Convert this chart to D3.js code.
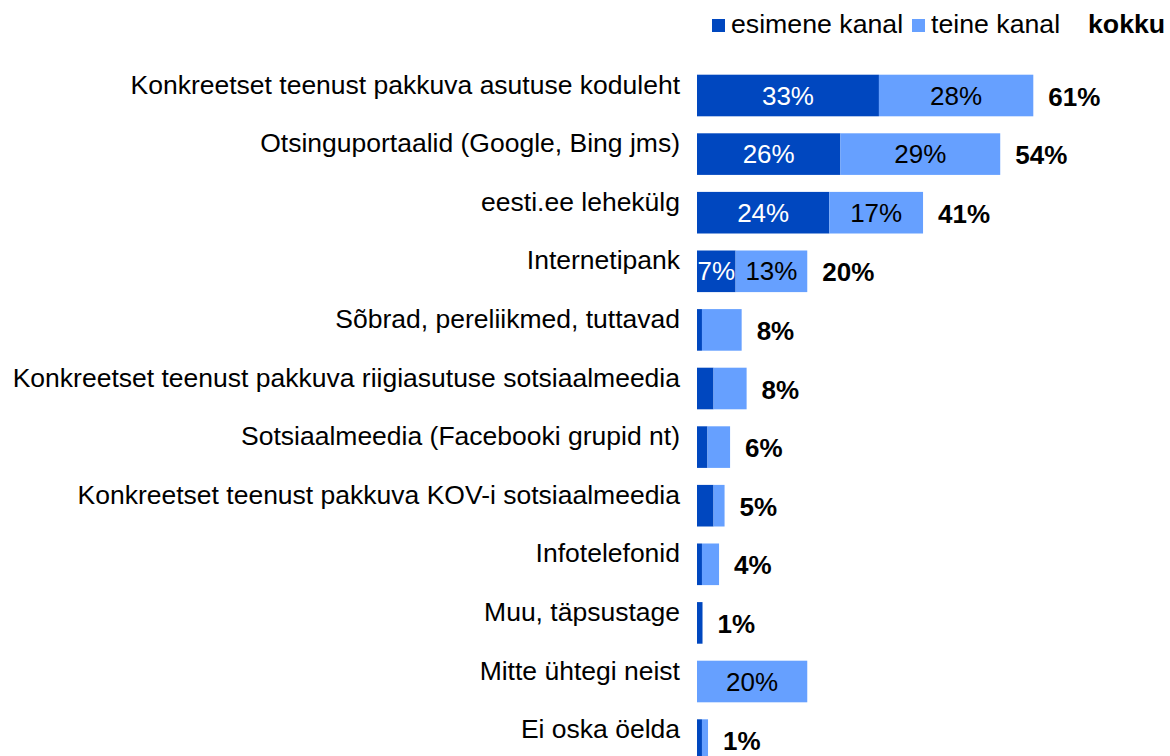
<!DOCTYPE html>
<html>
<head>
<meta charset="utf-8">
<script src="https://cdn.jsdelivr.net/npm/d3@7"></script>
<style>
    body { margin: 0; background: #fff; }
    svg { display: block; font-family: "Liberation Sans", Arial, sans-serif; }
</style>
</head>
<body>
<div id="chart"></div>
<script>
const categories = [
    "Konkreetset teenust pakkuva asutuse koduleht",
    "Otsinguportaalid (Google, Bing jms)",
    "eesti.ee lehekülg",
    "Internetipank",
    "Sõbrad, pereliikmed, tuttavad",
    "Konkreetset teenust pakkuva riigiasutuse sotsiaalmeedia",
    "Sotsiaalmeedia (Facebooki grupid nt)",
    "Konkreetset teenust pakkuva KOV-i sotsiaalmeedia",
    "Infotelefonid",
    "Muu, täpsustage",
    "Mitte ühtegi neist",
    "Ei oska öelda",
]
// esimene kanal / teine kanal (%)
const firstValues = [33, 26, 24, 7, 0.9, 3.0, 1.9, 3.0, 0.9, 1.0, 0, 0.9]
const secondValues = [28, 29, 17, 13, 7.2, 6.0, 4.1, 2.0, 3.1, 0, 20, 1.1]
const firstLabels = ["33%", "26%", "24%", "7%", null, null, null, null, null, null, null, null]
const secondLabels = ["28%", "29%", "17%", "13%", null, null, null, null, null, null, "20%", null]
const totalLabels = ["61%", "54%", "41%", "20%", "8%", "8%", "6%", "5%", "4%", "1%", null, "1%"]
const legendItems = ["esimene kanal", "teine kanal"]

const width = 1170
const height = 756
const darkBlue = "#0047bf"
const lightBlue = "#66a0ff"
const fontSize = 26

const svg = d3.select("#chart")
    .append("svg")
    .attr("width", width)
    .attr("height", height)

const x = d3.scaleLinear().domain([0, 61]).range([697, 1033.3])
const y = d3.scaleBand()
    .domain(categories)
    .range([66.2, 66.2 + 12 * 58.6])
    .paddingInner(0.29)
    .paddingOuter(0.145)

const rows = categories.map((c, i) => ({
    cat: c,
    first: firstValues[i],
    second: secondValues[i],
    l1: firstLabels[i],
    l2: secondLabels[i],
    total: totalLabels[i],
}))

// category labels
svg.append("g")
    .selectAll("text")
    .data(rows)
    .join("text")
    .attr("x", 680)
    .attr("y", (d) => y(d.cat) + y.bandwidth() / 2 - 2)
    .attr("text-anchor", "end")
    .attr("font-size", 26.5)
    .attr("fill", "#000")
    .text((d) => d.cat)

const bars = svg.append("g")

bars.selectAll("rect.first")
    .data(rows.filter((d) => d.first > 0))
    .join("rect")
    .attr("class", "first")
    .attr("x", x(0))
    .attr("y", (d) => y(d.cat))
    .attr("width", (d) => x(d.first) - x(0))
    .attr("height", y.bandwidth())
    .attr("fill", darkBlue)

bars.selectAll("rect.second")
    .data(rows.filter((d) => d.second > 0))
    .join("rect")
    .attr("class", "second")
    .attr("x", (d) => x(d.first))
    .attr("y", (d) => y(d.cat))
    .attr("width", (d) => x(d.first + d.second) - x(d.first))
    .attr("height", y.bandwidth())
    .attr("fill", lightBlue)

// values inside segments
bars.selectAll("text.l1")
    .data(rows.filter((d) => d.l1))
    .join("text")
    .attr("class", "l1")
    .attr("x", (d) => (x(0) + x(d.first)) / 2)
    .attr("y", (d) => y(d.cat) + y.bandwidth() / 2 + 9)
    .attr("text-anchor", "middle")
    .attr("font-size", fontSize)
    .attr("fill", "#fff")
    .text((d) => d.l1)

bars.selectAll("text.l2")
    .data(rows.filter((d) => d.l2))
    .join("text")
    .attr("class", "l2")
    .attr("x", (d) => (x(d.first) + x(d.first + d.second)) / 2)
    .attr("y", (d) => y(d.cat) + y.bandwidth() / 2 + 9)
    .attr("text-anchor", "middle")
    .attr("font-size", fontSize)
    .attr("fill", "#000")
    .text((d) => d.l2)

// totals
bars.selectAll("text.total")
    .data(rows.filter((d) => d.total))
    .join("text")
    .attr("class", "total")
    .attr("x", (d) => x(d.first + d.second) + 15)
    .attr("y", (d) => y(d.cat) + y.bandwidth() / 2 + 10)
    .attr("font-size", fontSize)
    .attr("font-weight", "bold")
    .attr("fill", "#000")
    .text((d) => d.total)

// legend
const legend = svg.append("g")
const legendX = [712, 912]
const legendColors = [darkBlue, lightBlue]
legendItems.forEach((name, i) => {
    legend.append("rect")
        .attr("x", legendX[i])
        .attr("y", 19)
        .attr("width", 13)
        .attr("height", 13)
        .attr("fill", legendColors[i])
    legend.append("text")
        .attr("x", legendX[i] + 19)
        .attr("y", 33)
        .attr("font-size", 26.7)
        .attr("fill", "#000")
        .text(name)
})
legend.append("text")
    .attr("x", 1088)
    .attr("y", 33)
    .attr("font-size", 26.7)
    .attr("font-weight", "bold")
    .attr("fill", "#000")
    .text("kokku")
</script>
</body>
</html>
